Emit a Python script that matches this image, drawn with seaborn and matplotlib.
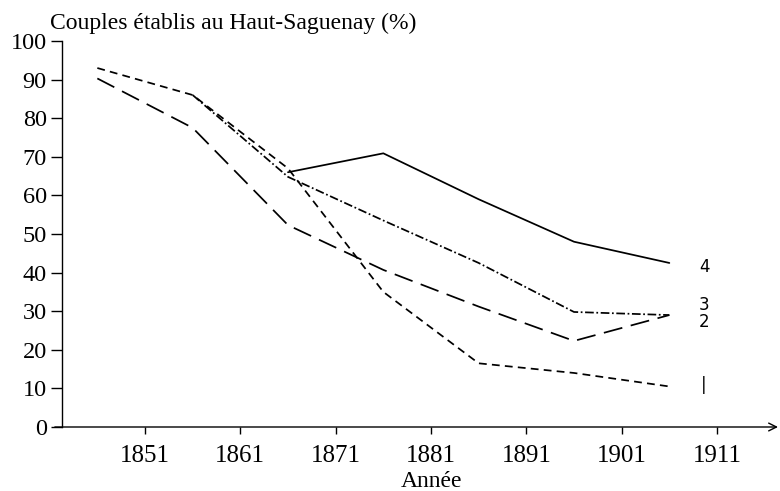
import matplotlib
matplotlib.use("Agg")
import matplotlib.pyplot as plt
import seaborn as sns
import numpy as np
import pandas as pd

# ---- data ----
years = [1846, 1856, 1866, 1876, 1886, 1896, 1906]
serie_1 = [93.0, 86.0, 67.0, 35.0, 16.5, 14.0, 10.5]
serie_2 = [90.3, 77.5, 52.3, 40.7, 31.2, 22.3, 29.0]
serie_3 = [np.nan, 86.0, 64.8, 53.5, 42.5, 29.8, 29.0]
serie_4 = [np.nan, np.nan, 66.0, 70.9, 59.0, 48.0, 42.5]
series_names = ["1", "2", "3", "4"]
xtick_years = [1851, 1861, 1871, 1881, 1891, 1901, 1911]
ytick_values = [0, 10, 20, 30, 40, 50, 60, 70, 80, 90, 100]
label_values = [10.9, 27.3, 31.6, 41.5]

title = "Couples établis au Haut-Saguenay (%)"
xlabel = "Année"

rows = []
for name, vals in zip(series_names, [serie_1, serie_2, serie_3, serie_4]):
    for y, v in zip(years, vals):
        rows.append({"Année": y, "Valeur": v, "Série": name})
df = pd.DataFrame(rows)

sns.set_theme(style="white")
plt.rcParams["font.family"] = ["Liberation Serif", "DejaVu Serif"]

W, H = 780, 491
fig = plt.figure(figsize=(W / 100, H / 100), dpi=100)
left, right, bottom, top = 62, 778, 427, 41
ax = fig.add_axes([left / W, 1 - bottom / H, (right - left) / W, (bottom - top) / H])

dashes = {"1": (4.5, 3.0), "2": (11, 5), "3": (5, 1.5, 1, 1.5), "4": ""}
sns.lineplot(data=df, x="Année", y="Valeur", style="Série", dashes=dashes,
             color="black", linewidth=1.25, legend=False, ax=ax,
             style_order=series_names)

# x range so that 1851 sits at ~145 px and 1911 at ~717 px
px_per_year = (717 - 145) / 60
x0 = 1851 - (145 - left) / px_per_year
x1 = 1851 + (right - 145) / px_per_year
ax.set_xlim(x0, x1)
ax.set_ylim(0, 100)

for s in ["top", "right", "bottom"]:
    ax.spines[s].set_visible(False)
ax.spines["left"].set_color("black")
ax.spines["left"].set_linewidth(1.0)

# x axis with arrow
ax.annotate("", xy=(1.0, 0), xycoords="axes fraction",
            xytext=(-0.01, 0), textcoords="axes fraction",
            arrowprops=dict(arrowstyle="->", color="black", lw=1.0,
                            shrinkA=0, shrinkB=0, mutation_scale=14))

ax.set_xticks(xtick_years)
ax.set_xticklabels([str(v) for v in xtick_years])
ax.set_yticks(ytick_values)
ax.set_yticklabels([str(v) for v in ytick_values])
ax.tick_params(axis="x", direction="out", length=5, width=1, color="black",
               labelsize=18, pad=8, bottom=True)
ax.tick_params(axis="y", direction="out", length=8, width=1, color="black",
               labelsize=17.5, pad=3, left=True)
for lab in ax.get_xticklabels() + ax.get_yticklabels():
    lab.set_color("black")

ax.set_xlabel(xlabel, fontsize=17, color="black", labelpad=0)
ax.xaxis.set_label_coords((432 - left) / (right - left), -44 / (bottom - top))
ax.set_ylabel("")

# series labels at right end
lx = 1851 + (704 - 145) / px_per_year
for name, v in zip(series_names, label_values):
    txt = name if name != "1" else "|"
    ax.text(lx, v, txt, fontsize=12, ha="center", va="center",
            family=["DejaVu Sans"], color="black")

fig.text(50 / W, 1 - 29 / H, title, fontsize=17, color="black",
         ha="left", va="baseline")

ax.set_facecolor("white")
fig.patch.set_facecolor("white")
fig.savefig("out.png", dpi=100)
